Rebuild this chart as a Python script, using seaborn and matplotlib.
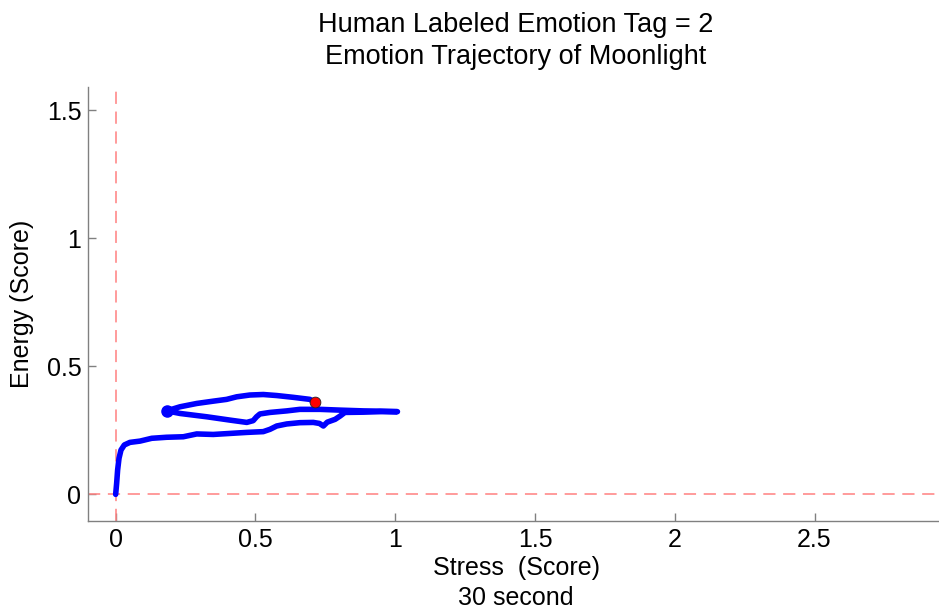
import matplotlib
matplotlib.use("Agg")
import matplotlib.pyplot as plt
import seaborn as sns
import pandas as pd

# Trajectory data (Stress, Energy), in drawing order
stress = [0.000, 0.0035, 0.007, 0.012, 0.019, 0.031, 0.051, 0.087, 0.129, 0.182,
          0.242, 0.290, 0.349, 0.409, 0.469, 0.528, 0.552, 0.576, 0.612, 0.659,
          0.707, 0.729, 0.743, 0.757, 0.785, 0.803, 0.820, 0.886, 0.946, 1.008,
          0.946, 0.886, 0.803, 0.731, 0.659, 0.612, 0.552, 0.516, 0.504, 0.492,
          0.469, 0.409, 0.326, 0.230, 0.188, 0.182, 0.200, 0.230, 0.290, 0.349,
          0.397, 0.433, 0.480, 0.528, 0.576, 0.635, 0.695, 0.713]
energy = [0.000, 0.043, 0.095, 0.141, 0.173, 0.193, 0.203, 0.208, 0.219, 0.223,
          0.225, 0.236, 0.234, 0.238, 0.242, 0.245, 0.254, 0.267, 0.275, 0.280,
          0.281, 0.277, 0.267, 0.282, 0.293, 0.306, 0.320, 0.321, 0.323, 0.323,
          0.325, 0.326, 0.329, 0.332, 0.332, 0.326, 0.320, 0.314, 0.303, 0.288,
          0.281, 0.290, 0.303, 0.316, 0.325, 0.327, 0.332, 0.342, 0.355, 0.364,
          0.371, 0.381, 0.388, 0.390, 0.386, 0.379, 0.371, 0.359]
end_stress = [0.713]
end_energy = [0.359]
xticks = [0, 0.5, 1, 1.5, 2, 2.5]
yticks = [0, 0.5, 1, 1.5]
title_text = "Human Labeled Emotion Tag = 2\nEmotion Trajectory of Moonlight"
xlabel_text = "Stress  (Score)\n30 second"
ylabel_text = "Energy (Score)"

sns.set_style("ticks")
plt.rcParams['font.family'] = ['Liberation Sans', 'DejaVu Sans']
plt.rcParams['text.color'] = 'black'
plt.rcParams['axes.labelcolor'] = 'black'

df = pd.DataFrame({"Stress": stress, "Energy": energy})
df_end = pd.DataFrame({"Stress": end_stress, "Energy": end_energy})

fig = plt.figure(figsize=(9.39, 6.09), dpi=100)
ax = fig.add_axes([0.094, 0.1445, 0.9113, 0.7131])

ax.axvline(0, color="#ff8080", lw=1.1, dashes=(8, 5), zorder=1)
ax.axhline(0, color="#ff8080", lw=1.1, dashes=(8, 5), zorder=1)

sns.lineplot(data=df, x="Stress", y="Energy", sort=False, estimator=None,
             color="#0000ff", lw=4, ax=ax, zorder=3)
ax.plot(stress[45], energy[45], 'o', color="#0000ff", ms=8, zorder=3)
sns.scatterplot(data=df_end, x="Stress", y="Energy", color="#ff0000", s=60,
                edgecolor="#222222", linewidth=0.6, ax=ax, zorder=4)

ax.set_xlim(-0.098, 2.963)
ax.set_ylim(-0.104, 1.592)
ax.set_xticks(xticks)
ax.set_xticklabels([f"{t:g}" for t in xticks])
ax.set_yticks(yticks)
ax.set_yticklabels([f"{t:g}" for t in yticks])

for s in ["top", "right"]:
    ax.spines[s].set_visible(False)
for s in ["left", "bottom"]:
    ax.spines[s].set_color("#808080")
    ax.spines[s].set_linewidth(1.0)
ax.tick_params(direction="in", length=6, width=1.0, color="#808080",
               labelsize=18, labelcolor="black", pad=5)

ax.set_title(title_text, fontsize=19.5, pad=16, linespacing=1.3, color="black")
ax.set_xlabel(xlabel_text, fontsize=18, labelpad=3, linespacing=1.3)
ax.set_ylabel(ylabel_text, fontsize=18, labelpad=9)

fig.savefig("out.png", dpi=100)
